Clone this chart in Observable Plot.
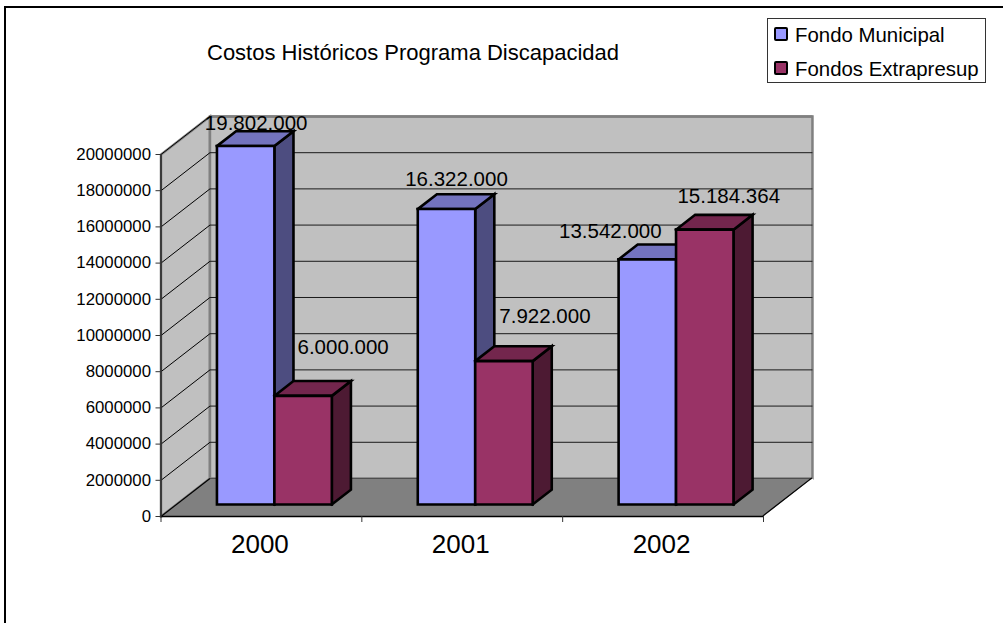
<!DOCTYPE html>
<html>
<head>
<meta charset="utf-8">
<script src="https://cdn.jsdelivr.net/npm/d3@7"></script>
<script src="https://cdn.jsdelivr.net/npm/@observablehq/plot@0.6"></script>
<style>
  html, body { margin: 0; padding: 0; background: #fff; overflow: hidden; }
  #page { position: relative; width: 1003px; height: 623px; overflow: hidden; font-family: "Liberation Sans", Arial, sans-serif; color: #000; }
  #frame { position: absolute; left: 4px; top: 6px; width: 1100px; height: 800px; border-left: 2px solid #000; border-top: 2px solid #000; }
  #chart { position: absolute; left: 0; top: 0; }
  #title { position: absolute; left: 207px; top: 41px; font-size: 22px; line-height: 24px; white-space: nowrap; }
  #legend { position: absolute; left: 767px; top: 18px; width: 217px; height: 63px; border: 1px solid #333; background: #fff; box-sizing: content-box; }
  .item { position: absolute; left: 6px; white-space: nowrap; font-size: 20.4px; line-height: 24px; padding-left: 21px; }
  .item i { position: absolute; left: 0; top: 4px; width: 10px; height: 10px; border: 2px solid #000; border-radius: 2px; }
</style>
</head>
<body>
<div id="page">
  <div id="frame"></div>
  <div id="chart"></div>
  <div id="title"></div>
  <div id="legend"></div>
</div>
<script>
const titleText = "Costos Históricos Programa Discapacidad";
const categories = ["2000", "2001", "2002"];
const seriesNames = ["Fondo Municipal", "Fondos Extrapresup"];
const fondoMunicipal = [19802000, 16322000, 13542000];
const fondosExtrapresup = [6000000, 7922000, 15184364];
const yTicks = [0, 2000000, 4000000, 6000000, 8000000, 10000000, 12000000, 14000000, 16000000, 18000000, 20000000];

// Appearance of the oblique projection (x in category units, y in value units, z in 0..1 depth)
const DEPTH_X = 0.2438, DEPTH_Y = 2100000;
const BAR_START = 0.2015, BAR_WIDTH = 0.286, BAR_Z0 = 0.316, BAR_Z1 = 0.706;
const faces = [
  {front: "#9999ff", top: "#7373bf", side: "#4d4d80"},
  {front: "#993366", top: "#73264d", side: "#4d1a33"}
];
// Hand placement of each data label, as in the original (dx, dy from the bar's front-top centre)
const labelNudge = [
  [[10.5, -23], [40, -48]],
  [[10, -29.5], [41, -45]],
  [[-37, -28], [24, -33]]
];

const P = (x, y, z = 0) => ({x: x + z * DEPTH_X, y: y + z * DEPTH_Y});
const poly = (pts, o) => Plot.line([...pts, pts[0]].map(p => P(...p)), {
  x: "x", y: "y", strokeLinejoin: "miter", strokeMiterlimit: 10, strokeLinecap: "square", ...o
});
const seg = (a, b, o) => Plot.line([P(...a), P(...b)], {x: "x", y: "y", strokeLinecap: "butt", ...o});

const marks = [];
// walls + floor
const WALL = {fill: "#c0c0c0", stroke: "#808080", strokeWidth: 2.5};
marks.push(poly([[0, 0, 0], [0, 20000000, 0], [0, 20000000, 1], [0, 0, 1]], WALL));
marks.push(poly([[0, 0, 1], [0, 20000000, 1], [3, 20000000, 1], [3, 0, 1]], WALL));
// gridlines
for (const v of yTicks.slice(1)) {
  marks.push(seg([0, v, 0], [0, v, 1], {stroke: "#000", strokeWidth: 1}));
  marks.push(seg([0, v, 1], [3, v, 1], {stroke: v === 20000000 ? "#808080" : "#1a1a1a", strokeWidth: v === 20000000 ? 2.5 : 1}));
}
marks.push(poly([[0, 0, 0], [3, 0, 0], [3, 0, 1], [0, 0, 1]], {fill: "#808080", stroke: "none"}));
marks.push(seg([0, 0, 1], [3, 0, 1], {stroke: "#4d4d4d", strokeWidth: 1}));
marks.push(seg([0, 0, 0], [0, 0, 1], {stroke: "#000", strokeWidth: 1.2}));
marks.push(seg([3, 0, 0], [3, 0, 1], {stroke: "#000", strokeWidth: 1.2, dx: -0.6, dy: -0.6}));
marks.push(seg([3, 0, 0], [3, 0, 1], {stroke: "#fff", strokeWidth: 1.2, dx: 0.6, dy: 0.6}));
// bars
const seriesValues = [fondoMunicipal, fondosExtrapresup];
const B = {stroke: "#000", strokeWidth: 2.6};
const labels = [];
categories.forEach((c, i) => {
  seriesValues.forEach((vals, s) => {
    const v = vals[i];
    const x0 = i + BAR_START + s * BAR_WIDTH, x1 = x0 + BAR_WIDTH;
    const f = faces[s];
    marks.push(poly([[x1, 0, BAR_Z0], [x1, v, BAR_Z0], [x1, v, BAR_Z1], [x1, 0, BAR_Z1]], {...B, fill: f.side}));
    marks.push(poly([[x0, v, BAR_Z0], [x1, v, BAR_Z0], [x1, v, BAR_Z1], [x0, v, BAR_Z1]], {...B, fill: f.top}));
    marks.push(poly([[x0, 0, BAR_Z0], [x0, v, BAR_Z0], [x1, v, BAR_Z0], [x1, 0, BAR_Z0]], {...B, fill: f.front}));
    labels.push({...P((x0 + x1) / 2, v, BAR_Z0), v, nudge: labelNudge[i][s]});
  });
});
const fmt = d3.formatLocale({decimal: ",", thousands: ".", grouping: [3], currency: ["", ""]}).format(",d");
for (const l of labels) {
  marks.push(Plot.text([l], {x: "x", y: "y", text: d => fmt(d.v), dx: l.nudge[0], dy: l.nudge[1], fontSize: 20.5, fill: "#000"}));
}
// axes
marks.push(Plot.ruleX([0], {stroke: "#333", strokeWidth: 1.8}));
marks.push(Plot.ruleY([0], {stroke: "#000", strokeWidth: 1.5}));
marks.push(Plot.axisY({ticks: yTicks, tickFormat: d => String(d), tickSize: 5, tickPadding: 5, fontSize: 16.8, label: null, stroke: "#333", color: "#000"}));
marks.push(Plot.axisX({ticks: [0, 1, 2, 3], tickFormat: () => "", tickSize: 6, tickPadding: 0, label: null, stroke: "#333"}));
marks.push(Plot.text(categories, {x: (d, i) => i + 0.5, y: () => 0, text: d => d, dx: -1.5, dy: 28, fontSize: 26, fill: "#000"}));

const plot = Plot.plot({
  width: 1003, height: 623,
  marginLeft: 160.5, marginRight: 240, marginTop: 154, marginBottom: 107,
  x: {domain: [0, 3]},
  y: {domain: [0, 20000000]},
  style: {background: "transparent", fontFamily: "'Liberation Sans', Arial, sans-serif", color: "#000", overflow: "visible"},
  marks
});
document.getElementById("chart").appendChild(plot);
document.getElementById("title").textContent = titleText;
const legend = document.getElementById("legend");
seriesNames.forEach((name, i) => {
  const row = document.createElement("div");
  row.className = "item";
  row.style.top = (i === 0 ? 4 : 38) + "px";
  const sw = document.createElement("i");
  sw.style.background = faces[i].front;
  row.appendChild(sw);
  row.appendChild(document.createTextNode(name));
  legend.appendChild(row);
});
</script>
</body>
</html>
